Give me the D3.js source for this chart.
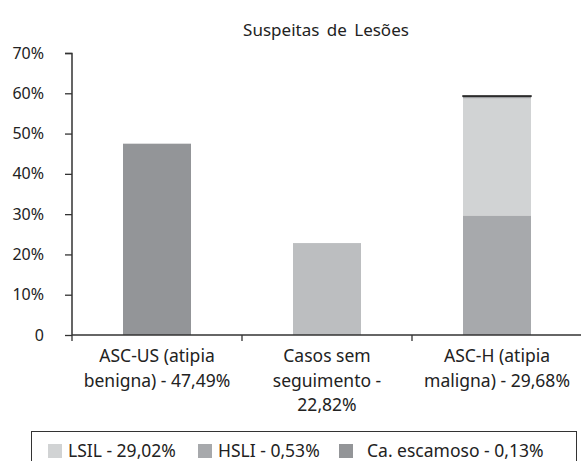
<!DOCTYPE html>
<html>
<head>
<meta charset="utf-8">
<script src="https://cdn.jsdelivr.net/npm/d3@7"></script>
<style>
	body { margin: 0; background: #fff; }
	text { font-family: "Noto Sans", "Open Sans", sans-serif; fill: #222; }
</style>
</head>
<body>
<script>
// chart data
const categories = ["ASC-US", "Casos", "ASC-H"];
const categoryLines = [
	["ASC-US (atipia", "benigna) - 47,49%"],
	["Casos sem", "seguimento -", "22,82%"],
	["ASC-H (atipia", "maligna) - 29,68%"]
];
const baseValues = [47.49, 22.82, 29.68];
const baseColors = ["#939598", "#bcbec0", "#a7a9ac"];

// stacked on top of the ASC-H bar
const stackKeys = ["LSIL - 29,02%", "HSLI - 0,53%", "Ca. escamoso - 0,13%"];
const stackValues = [29.02, 0.53, 0.13];
const stackColors = ["#d1d3d4", "#a7a9ac", "#939598"];

const yTicks = [0, 10, 20, 30, 40, 50, 60, 70];

let width = 581, height = 461;

let svg = d3.select("body").append("svg")
	.attr("width", width)
	.attr("height", height);

let x = d3.scaleBand()
	.domain(categories)
	.range([72, 582])
	.paddingInner(0.6)
	.paddingOuter(0.3);

let y = d3.scaleLinear()
	.domain([0, 70])
	.range([335, 53]);

// title
svg.append("text")
	.attr("x", 326)
	.attr("y", 36)
	.attr("text-anchor", "middle")
	.style("font-size", "17px")
	.style("word-spacing", "3px")
	.text("Suspeitas de Lesões");

// base bars
svg.selectAll(".bar")
	.data(baseValues)
	.enter().append("rect")
	.attr("class", "bar")
	.attr("x", (d, i) => x(categories[i]))
	.attr("y", d => y(d))
	.attr("width", x.bandwidth())
	.attr("height", d => y(0) - y(d))
	.attr("fill", (d, i) => baseColors[i]);

// stacked segments on the last bar
let cum = baseValues[2];
let segs = stackValues.map((v, i) => {
	let s = {y0: cum, y1: cum + v, i: i};
	cum += v;
	return s;
});

svg.selectAll(".seg")
	.data(segs)
	.enter().append("rect")
	.attr("class", "seg")
	.attr("x", x(categories[2]))
	.attr("y", d => y(d.y1))
	.attr("width", x.bandwidth())
	.attr("height", d => y(d.y0) - y(d.y1))
	.attr("fill", d => stackColors[d.i])
	.attr("stroke", d => d.i == 2 ? "#2b2b2b" : "none")
	.attr("stroke-width", 1.4);

// y axis
let yAxis = d3.axisLeft(y)
	.tickValues(yTicks)
	.tickSize(7)
	.tickPadding(20)
	.tickFormat(d => d == 0 ? "0" : d + "%");

let gy = svg.append("g")
	.attr("transform", "translate(72,0)")
	.call(yAxis);
gy.select(".domain").attr("stroke", "#333").attr("stroke-width", 1.5).attr("d", "M-7,53.5H0V335");
gy.selectAll(".tick line").attr("stroke", "#333").attr("stroke-width", 1.3);
gy.selectAll(".tick text")
	.style("font-size", "16px")
	.style("font-family", "'Noto Sans', sans-serif")
	.attr("fill", "#222")
	.attr("x", -28);

// x axis
let xBounds = categories.map(c => x(c) - x.step() * 0.3).concat([x(categories[2]) + x.step() * 0.7]);
svg.append("line")
	.attr("x1", 72).attr("x2", 582)
	.attr("y1", y(0)).attr("y2", y(0))
	.attr("stroke", "#333").attr("stroke-width", 1.5);
svg.selectAll(".xtick")
	.data(xBounds)
	.enter().append("line")
	.attr("class", "xtick")
	.attr("x1", d => d).attr("x2", d => d)
	.attr("y1", y(0)).attr("y2", y(0) + 6)
	.attr("stroke", "#333").attr("stroke-width", 1.3);

// category labels
let labels = svg.selectAll(".cat")
	.data(categoryLines)
	.enter().append("text")
	.attr("class", "cat")
	.attr("text-anchor", "middle")
	.style("font-size", "17.5px");
labels.selectAll("tspan")
	.data((d, i) => d.map(l => ({l: l, i: i})))
	.enter().append("tspan")
	.attr("x", d => x(categories[d.i]) + x.bandwidth() / 2)
	.attr("y", (d, j) => 362 + j * 24.5)
	.text(d => d.l);

// legend
svg.append("rect")
	.attr("x", 31.5).attr("y", 431.5)
	.attr("width", 545).attr("height", 40)
	.attr("fill", "none").attr("stroke", "#333").attr("stroke-width", 1);

let legendX = [48, 198, 339];
let lg = svg.selectAll(".leg")
	.data(stackKeys)
	.enter().append("g")
	.attr("class", "leg")
	.attr("transform", (d, i) => `translate(${legendX[i]},444)`);
lg.append("rect")
	.attr("width", 14).attr("height", 14)
	.attr("fill", (d, i) => stackColors[i]);
lg.append("text")
	.attr("x", (d, i) => i == 2 ? 28 : 20)
	.attr("y", 13)
	.style("font-size", "17.5px")
	.text(d => d);
</script>
</body>
</html>
